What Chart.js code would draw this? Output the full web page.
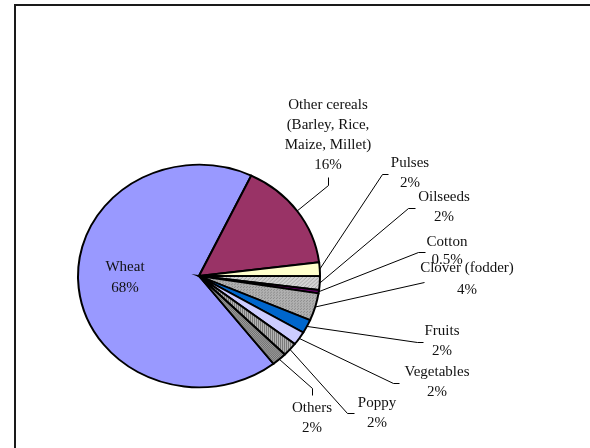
<!DOCTYPE html>
<html>
<head>
<meta charset="utf-8">
<script src="https://cdn.jsdelivr.net/npm/chart.js@4/dist/chart.umd.min.js"></script>
<style>
  html, body { margin: 0; padding: 0; background: #fff; }
  #wrap { width: 590px; height: 448px; position: relative; }
</style>
</head>
<body>
<div id="wrap"><canvas id="c" width="590" height="448"></canvas></div>
<script>
// Land use by crop (share of cropped area, %)
const crops = ['Wheat', 'Other cereals', 'Pulses', 'Oilseeds', 'Cotton', 'Clover (fodder)',
               'Fruits', 'Vegetables', 'Poppy', 'Others'];
const shares = [68, 16, 2, 2, 0.5, 4, 2, 2, 2, 2];
const labelLines = [
  ['Wheat'],
  ['Other cereals', '(Barley, Rice,', 'Maize, Millet)'],
  ['Pulses'], ['Oilseeds'], ['Cotton'], ['Clover (fodder)'],
  ['Fruits'], ['Vegetables'], ['Poppy'], ['Others']
];

// Label placement: text centre, line gap, and leader-line bend points
const labelLayout = [
  { x: 125, y: 267, gap: 21, leader: null },
  { x: 328, y: 105, gap: 20, leader: [[328, 185], [328, 177]] },
  { x: 410, y: 163, gap: 20, leader: [[382, 174], [388, 174]] },
  { x: 444, y: 197, gap: 20, leader: [[408, 208], [415, 208]] },
  { x: 447, y: 242, gap: 18, leader: [[418, 252], [425, 252]] },
  { x: 467, y: 268, gap: 22, leader: [[424, 282]] },
  { x: 442, y: 331, gap: 20, leader: [[417, 342], [423, 342]] },
  { x: 437, y: 372, gap: 20, leader: [[393, 383], [399, 383]] },
  { x: 377, y: 403, gap: 20, leader: [[347, 413], [354, 413]] },
  { x: 312, y: 408, gap: 20, leader: [[312, 388], [312, 395]] }
];

const SQUASH = 0.92; // vertical flattening of the pie

function makePattern(size, bg, draw) {
  const c = document.createElement('canvas');
  c.width = size; c.height = size;
  const g = c.getContext('2d');
  g.fillStyle = bg; g.fillRect(0, 0, size, size);
  draw(g);
  return g.createPattern(c, 'repeat');
}
const ctx0 = document.getElementById('c').getContext('2d');
const hatchLight = makePattern(4, '#d4d4d4', g => {
  g.fillStyle = '#a8a8a8';
  for (let i = 0; i < 4; i++) g.fillRect(i, 3 - i, 1, 1);
});
const dotsMid = makePattern(3, '#b0b0b0', g => {
  g.fillStyle = '#8a8a8a'; g.fillRect(0, 0, 1, 1); g.fillRect(1, 2, 1, 1);
});
const stripesV = makePattern(2, '#b4b4b4', g => {
  g.fillStyle = '#7a7a7a'; g.fillRect(0, 0, 1, 2);
});
const dotsDark = makePattern(2, '#a0a0a0', g => {
  g.fillStyle = '#6e6e6e'; g.fillRect(0, 0, 1, 1); g.fillRect(1, 1, 1, 1);
});

const sliceColors = ['#9999ff', '#993366', '#ffffcc', hatchLight, '#660066', dotsMid,
                     '#0066cc', '#ccccff', stripesV, dotsDark];

const framePlugin = {
  id: 'frame',
  beforeDraw(chart) {
    const c = chart.ctx;
    c.save();
    c.fillStyle = '#fff';
    c.fillRect(0, 0, chart.width, chart.height);
    c.strokeStyle = '#1a1a1a';
    c.lineWidth = 2;
    c.strokeRect(15, 5, 700, 600);
    c.restore();
  }
};

const squashPlugin = {
  id: 'squash',
  beforeDatasetsDraw(chart) {
    const a = chart.chartArea;
    const cx = (a.left + a.right) / 2, cy = (a.top + a.bottom) / 2;
    const c = chart.ctx;
    c.save();
    c.translate(cx, cy);
    c.scale(1, SQUASH);
    c.translate(-cx, -cy);
  },
  afterDatasetsDraw(chart) {
    chart.ctx.restore();
  }
};

const labelPlugin = {
  id: 'sliceLabels',
  afterDraw(chart) {
    const c = chart.ctx;
    const meta = chart.getDatasetMeta(0);
    const vals = chart.data.datasets[0].data;
    c.save();
    c.font = '15px "Liberation Serif", "Times New Roman", serif';
    c.fillStyle = '#111';
    c.textAlign = 'center';
    c.textBaseline = 'middle';
    meta.data.forEach((arc, i) => {
      const p = arc.getProps(['x', 'y', 'startAngle', 'endAngle', 'outerRadius'], true);
      const mid = (p.startAngle + p.endAngle) / 2;
      const ex = p.x + Math.cos(mid) * p.outerRadius;
      const ey = p.y + Math.sin(mid) * p.outerRadius * SQUASH;
      const L = labelLayout[i];
      if (L.leader) {
        c.strokeStyle = '#000';
        c.lineWidth = 1;
        c.beginPath();
        c.moveTo(ex, ey);
        L.leader.forEach(pt => c.lineTo(pt[0] + 0.5, pt[1] + 0.5));
        c.stroke();
      }
      const lines = labelLines[i].concat([vals[i] + '%']);
      lines.forEach((t, k) => c.fillText(t, L.x, L.y + k * L.gap));
    });
    c.restore();
  }
};

new Chart(document.getElementById('c'), {
  type: 'pie',
  data: {
    labels: crops,
    datasets: [{
      data: shares,
      backgroundColor: sliceColors,
      borderColor: '#000',
      borderWidth: 2,
      borderJoinStyle: 'miter'
    }]
  },
  options: {
    responsive: false,
    animation: false,
    rotation: 142,
    radius: 121,
    layout: { padding: { left: 78, right: 270, top: 155, bottom: 51 } },
    plugins: {
      legend: { display: false },
      tooltip: { enabled: false },
      title: { display: false }
    },
    events: []
  },
  plugins: [framePlugin, squashPlugin, labelPlugin]
});
</script>
</body>
</html>
